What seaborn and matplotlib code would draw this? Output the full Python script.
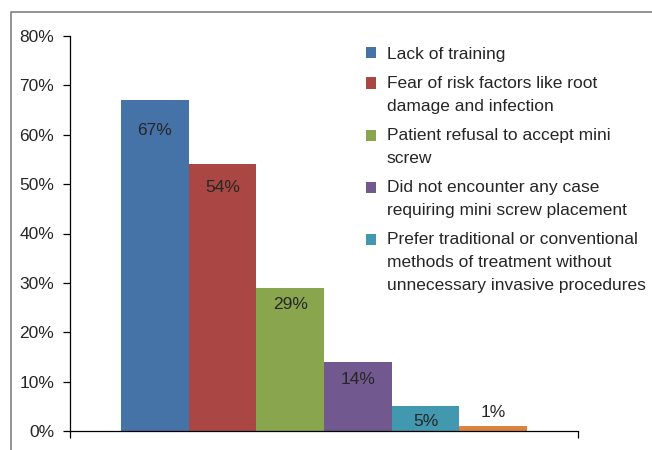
import matplotlib
matplotlib.use("Agg")
import matplotlib.pyplot as plt
from matplotlib.lines import Line2D
from matplotlib.patches import Rectangle
from matplotlib.legend_handler import HandlerPatch
from matplotlib.ticker import FuncFormatter
import seaborn as sns
import pandas as pd

reasons = [
    "Lack of training",
    "Fear of risk factors like root\ndamage and infection",
    "Patient refusal to accept mini\nscrew",
    "Did not encounter any case\nrequiring mini screw placement",
    "Prefer traditional or conventional\nmethods of treatment without\nunnecessary invasive procedures",
    "Other",
]
values = [67, 54, 29, 14, 5, 1]
value_labels = ["67%", "54%", "29%", "14%", "5%", "1%"]
yticks = [0, 10, 20, 30, 40, 50, 60, 70, 80]
colors = ["#4572A7", "#AA4643", "#89A54E", "#71588F", "#4198AF", "#DB843D"]
label_offsets = [-22, -17, -12, -13, -11, 10]  # points

sns.set_theme(style="white")
plt.rcParams["font.family"] = ["Liberation Sans", "DejaVu Sans"]
fs = 12.5
line_spacing = 1.68
line_pitch_pt = 16.6


class TopHandler(HandlerPatch):
    def __init__(self, shift, **kw):
        super().__init__(**kw)
        self.shift = shift

    def create_artists(self, legend, orig_handle, xdescent, ydescent,
                       width, height, fontsize, trans):
        p = Rectangle((-xdescent, -ydescent + self.shift), width, height,
                      facecolor=orig_handle.get_facecolor(), edgecolor="none")
        p.set_transform(trans)
        return [p]


df = pd.DataFrame({"grp": [""] * len(values), "reason": reasons, "value": values})

fig = plt.figure(figsize=(6.52, 4.5), dpi=100)
ax = fig.add_axes([70 / 652, 1 - 431 / 450, (578 - 70) / 652, (431 - 36) / 450])

sns.barplot(data=df, x="grp", y="value", hue="reason", hue_order=reasons,
            palette=colors, saturation=1, width=0.8, legend=False, ax=ax,
            edgecolor="none", linewidth=0)

ax.set_xlim(-0.5, 0.5)
ax.set_ylim(0, 80)
ax.set_yticks(yticks)
ax.yaxis.set_major_formatter(FuncFormatter(lambda v, p: f"{v:.0f}%"))
ax.set_xticks([-0.5, 0.5])
ax.set_xticklabels(["", ""])
ax.set_xlabel("")
ax.set_ylabel("")
for s in ["top", "right"]:
    ax.spines[s].set_visible(False)
for s in ["left", "bottom"]:
    ax.spines[s].set_color("#000000")
    ax.spines[s].set_linewidth(0.9)
ax.tick_params(axis="y", which="major", left=True, length=5, width=0.9,
               color="#000000", labelsize=fs, labelcolor="#262626", pad=6.5)
ax.tick_params(axis="x", which="major", bottom=True, length=5, width=0.9,
               color="#000000")

bars = [c[0] for c in ax.containers]
for bar, lab, off in zip(bars, value_labels, label_offsets):
    x = bar.get_x() + bar.get_width() / 2
    ax.annotate(lab, (x, bar.get_height()), xytext=(0, off),
                textcoords="offset points", ha="center", va="center",
                fontsize=fs, color="#262626")

hmap = {}
for bar, lab in zip(bars[:5], reasons[:5]):
    n = lab.count("\n")
    hmap[bar] = TopHandler(n * line_pitch_pt / 2)

leg = ax.legend(bars[:5], reasons[:5], loc="upper left",
                bbox_to_anchor=(357 / 652, 1 - 38 / 450),
                bbox_transform=fig.transFigure, frameon=False,
                fontsize=fs, handlelength=0.6, handleheight=0.6,
                handletextpad=0.6, labelspacing=0.8, borderpad=0,
                handler_map=hmap)
for t in leg.get_texts():
    t.set_color("#262626")
    t.set_linespacing(line_spacing)

fig.add_artist(Line2D([11 / 652, 11 / 652, 1.0], [0.0, 1 - 12 / 450, 1 - 12 / 450],
                      transform=fig.transFigure, color="#808080", linewidth=1.2))

fig.savefig("out.png", dpi=100)
